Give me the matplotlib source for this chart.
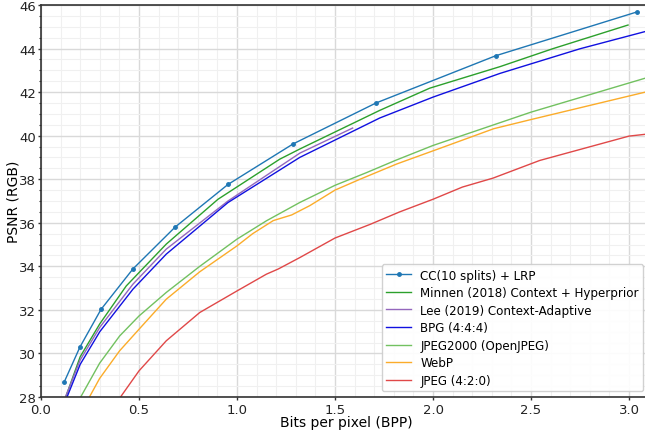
import matplotlib
matplotlib.use("Agg")
import matplotlib.pyplot as plt
from matplotlib.ticker import MultipleLocator

cc_x = [0.119, 0.199, 0.306, 0.469, 0.684, 0.954, 1.286, 1.709, 2.32, 3.04]
cc_y = [28.7, 30.3, 32.02, 33.88, 35.8, 37.76, 39.62, 41.5, 43.67, 45.68]

minnen_x = [0.118, 0.2, 0.3, 0.435, 0.639, 0.903, 1.218, 1.321, 1.728, 1.983, 2.342, 2.61, 2.995]
minnen_y = [27.8, 29.85, 31.36, 33.1, 35.02, 37.08, 38.92, 39.39, 41.16, 42.18, 43.17, 43.99, 45.08]

lee_x = [0.116, 0.2, 0.3, 0.469, 0.639, 0.954, 1.321, 1.59]
lee_y = [27.8, 29.7, 31.2, 33.18, 34.79, 37.0, 39.2, 40.35]

bpg_x = [0.124, 0.2, 0.3, 0.469, 0.639, 0.954, 1.32, 1.728, 2.0, 2.342, 2.75, 3.12]
bpg_y = [27.8, 29.5, 31.0, 32.95, 34.56, 36.93, 39.0, 40.81, 41.77, 42.86, 43.99, 44.87]

j2k_x = [0.19, 0.299, 0.401, 0.5, 0.639, 0.81, 1.0, 1.15, 1.32, 1.5, 1.66, 1.81, 2.0, 2.5, 3.12]
j2k_y = [27.8, 29.55, 30.8, 31.72, 32.8, 34.0, 35.25, 36.09, 36.93, 37.72, 38.3, 38.87, 39.55, 41.08, 42.74]

webp_x = [0.235, 0.299, 0.401, 0.5, 0.639, 0.81, 1.0, 1.08, 1.185, 1.279, 1.372, 1.5, 1.628, 1.815, 2.036, 2.31, 2.5, 3.12]
webp_y = [27.8, 28.85, 30.12, 31.11, 32.49, 33.75, 34.94, 35.5, 36.1, 36.36, 36.79, 37.5, 38.0, 38.7, 39.42, 40.32, 40.74, 42.08]

jpeg_x = [0.39, 0.5, 0.639, 0.81, 1.0, 1.15, 1.211, 1.32, 1.5, 1.68, 1.83, 2.0, 2.15, 2.306, 2.5, 2.544, 3.0, 3.12]
jpeg_y = [27.8, 29.2, 30.58, 31.88, 32.87, 33.64, 33.88, 34.4, 35.3, 35.93, 36.5, 37.08, 37.64, 38.05, 38.71, 38.86, 39.98, 40.1]

labels = ["CC(10 splits) + LRP", "Minnen (2018) Context + Hyperprior",
          "Lee (2019) Context-Adaptive", "BPG (4:4:4)", "JPEG2000 (OpenJPEG)",
          "WebP", "JPEG (4:2:0)"]
colors = ["#1f77b4", "#2ca02c", "#9467bd", "#1010e0", "#72c160", "#fbac2a", "#e04848"]

fig = plt.figure(figsize=(6.45, 4.31), dpi=100)
ax = fig.add_axes([41/645, 1-398/431, (651-41)/645, (398-6)/431])

ax.plot(cc_x, cc_y, color=colors[0], lw=1, marker='o', ms=2.5, label=labels[0])
ax.plot(minnen_x, minnen_y, color=colors[1], lw=1, label=labels[1])
ax.plot(lee_x, lee_y, color=colors[2], lw=1, label=labels[2])
ax.plot(bpg_x, bpg_y, color=colors[3], lw=1, label=labels[3])
ax.plot(j2k_x, j2k_y, color=colors[4], lw=1, label=labels[4])
ax.plot(webp_x, webp_y, color=colors[5], lw=1, label=labels[5])
ax.plot(jpeg_x, jpeg_y, color=colors[6], lw=1, label=labels[6])

ax.set_xlim(0, (651-41)/196)
ax.set_ylim(28, 46)
ax.xaxis.set_major_locator(MultipleLocator(0.5))
ax.xaxis.set_minor_locator(MultipleLocator(0.1))
ax.yaxis.set_major_locator(MultipleLocator(2))
ax.yaxis.set_minor_locator(MultipleLocator(0.5))
ax.grid(which='major', color='#d9d9d9', lw=1)
ax.grid(which='minor', color='#f0f0f0', lw=0.8)
ax.set_axisbelow(True)
for s in ['top', 'left', 'bottom']:
    ax.spines[s].set_color('#333333')
    ax.spines[s].set_linewidth(1.2)
ax.spines['right'].set_visible(False)
ax.tick_params(which='major', length=2.5, width=1, pad=1.5, colors='#333333',
               labelsize=9.5, labelcolor='#222222')
ax.tick_params(axis='y', which='major', pad=1.0)
ax.tick_params(which='minor', length=1.8, width=0.8, colors='#333333')
ax.tick_params(axis='x', which='minor', bottom=False)
ax.set_xlabel("Bits per pixel (BPP)", fontsize=10, labelpad=-0.5)
ax.set_ylabel("PSNR (RGB)", fontsize=10, labelpad=-1)
leg = ax.legend(loc='lower right', bbox_to_anchor=(643/645, 1-392/431),
                bbox_transform=fig.transFigure, borderaxespad=0,
                fontsize=8.6, framealpha=0.9, edgecolor='#cccccc',
                fancybox=True, labelspacing=0.38, borderpad=0.35,
                handlelength=2.1, handletextpad=0.75)
fig.savefig("out.png", dpi=100)
